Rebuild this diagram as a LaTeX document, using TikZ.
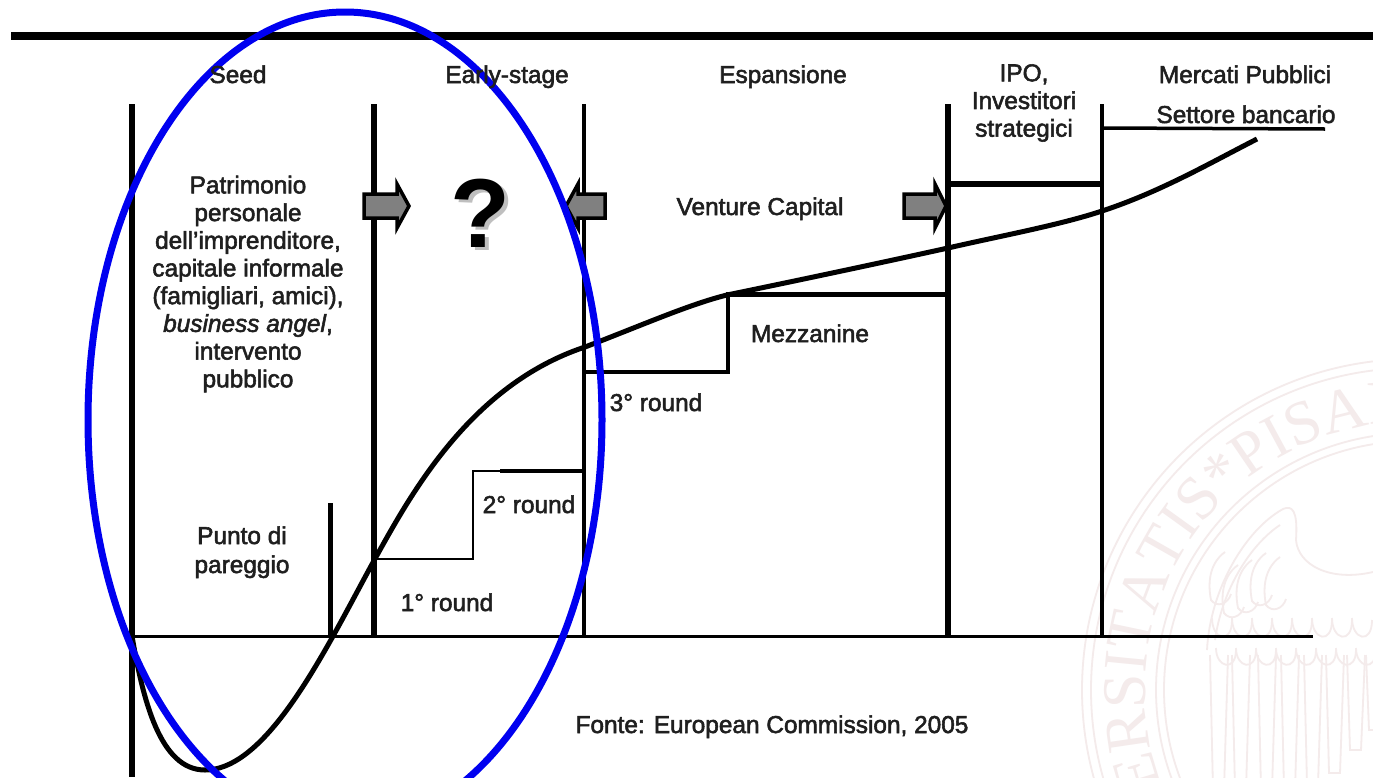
\documentclass[tikz,border=0pt]{standalone}
\usepackage{fontspec}
\usetikzlibrary{decorations.text}
\newfontfamily\lab[FakeBold=2.2]{Liberation Sans}
\newfontfamily\qmark{Liberation Sans Bold}
\newfontfamily\sealfont{Liberation Serif}
\definecolor{seal}{RGB}{244,235,235}
\definecolor{arrowgray}{RGB}{128,128,128}
\definecolor{ringblue}{RGB}{0,0,240}
\tikzset{
  lbl/.style={font=\lab\fontsize{24.4}{27.7}\selectfont, text=black!88, anchor=base, inner sep=0pt, align=center},
  block/.style={lbl, anchor=center},
  axis/.style={draw=black, line width=3.5pt},
  stepline/.style={draw=black, line width=3pt, line join=miter},
  blockarrow/.style={draw=black, fill=arrowgray, line width=3.5pt, miter limit=10},
  sealline/.style={draw=seal, line width=1.8pt}
}
\begin{document}
\begin{tikzpicture}[x=1pt,y=-1pt]
\useasboundingbox (0,0) rectangle (1373,777);
\begin{scope}
\clip (0,0) rectangle (1373,777);
\fill[white] (0,0) rectangle (1373,777);
% watermark seal
\coordinate (sc) at (1413,690);
\foreach \r in {331,322,257,249}{\draw[sealline] (sc) circle[radius=\r];}
\path[postaction={decorate,decoration={text along path,
   text={|\sealfont\fontsize{62}{62}\selectfont\color{seal}|VNIVERSITATIS*PISANAE}, text align=left}}]
   (sc) ++(126:268) arc[start angle=126,end angle=340,radius=268];
\draw[sealline] (1207,650) .. controls (1210,590) and (1245,530) .. (1283,509)
   .. controls (1292,505) and (1298,510) .. (1296,540)
   .. controls (1298,565) and (1330,582) .. (1373,572);
\draw[sealline] (1215,640) .. controls (1222,590) and (1250,545) .. (1280,525);
\foreach \a/\b in {1225/552,1238/565,1252/560,1266/553,1280/557}{
  \draw[sealline] (\a,\b) ..controls (\a-14,\b+10) and (\a-18,\b+28).. (\a-14,\b+48) ..controls (\a-8,\b+56) and (\a+3,\b+52).. (\a+6,\b+42);}
\foreach \a in {1212,1232,1252,1272,1292,1312,1332,1352}{
  \draw[sealline] (\a,618) ..controls (\a,640) and (\a+20,645).. (\a+20,620);
  \draw[sealline] (\a+4,648) ..controls (\a+4,668) and (\a+24,672).. (\a+24,650);}
\foreach \x/\e in {1210/790,1232/790,1258/790,1281/790,1304/785,1326/773,1347/750,1366/730}{
  \draw[sealline] (\x,655) -- (\x+3,\e) -- (\x+14,\e) -- (\x+18,655);}
% rules
\coordinate (barL) at (11,36); \coordinate (barR) at (1373,36);
\draw[line width=8pt] (barL) -- (barR);
\coordinate (a0) at (132,104); \coordinate (a0b) at (132,777);
\coordinate (a1) at (374,104); \coordinate (a1b) at (374,636);
\coordinate (a2) at (584,104); \coordinate (a2b) at (584,636);
\coordinate (a3) at (948,104); \coordinate (a3b) at (948,636);
\coordinate (a4) at (1102,104); \coordinate (a4b) at (1102,636);
\coordinate (be) at (330,503); \coordinate (beb) at (330,636);
\coordinate (baseL) at (132,636); \coordinate (baseR) at (1313,636);
\draw[axis,line width=5.5pt] (a0) -- (a0b);
\draw[axis,line width=5.5pt] (a1) -- (a1b);
\draw[axis,line width=3.2pt] (a2) -- (a2b);
\draw[axis,line width=5.5pt] (a3) -- (a3b);
\draw[axis,line width=4.8pt] (a4) -- (a4b);
\draw[axis,line width=5pt] (be) -- (beb);
\draw[axis,line width=3pt] (baseL) -- (baseR);
% steps
\draw[stepline,line width=2.8pt] (a1 |- 0,559) -- (473,559) -- (473,471) -- (a2 |- 0,471);
\draw[stepline,line width=4pt] (500,471) -- (a2 |- 0,471);
\draw[stepline,line width=4pt] (a2 |- 0,372) -- (728,372) -- (728,294);
\draw[stepline,line width=5pt] (726,294) -- (a3 |- 0,294);
\draw[stepline,line width=5.5pt] (a3 |- 0,184) -- (a4 |- 0,184);
\draw[stepline,line width=3.5pt] (a4 |- 0,128) -- (1325,129);
% curve
\draw[line width=5pt,line join=round]
  (132,636) .. controls (143,700) and (160,770) .. (205,770)
  .. controls (270,770) and (330,640) .. (376,557)
  .. controls (410,496) and (470,385) .. (585,347)
  .. controls (640,326) and (690,304) .. (727,295)
  .. controls (795,281) and (880,263) .. (948,248)
  .. controls (1000,236) and (1060,225) .. (1102,211)
  .. controls (1160,192) and (1210,163) .. (1257,139);
% arrows
\draw[blockarrow] (364,194) -- (397,194) -- (397,184) -- (409,206) -- (397,228) -- (397,218) -- (364,218) -- cycle;
\draw[blockarrow] (605,194) -- (578,194) -- (578,184) -- (566,206) -- (578,228) -- (578,218) -- (605,218) -- cycle;
\draw[blockarrow] (904,194) -- (935,194) -- (935,184) -- (946,206) -- (935,228) -- (935,218) -- (904,218) -- cycle;
% ring
\draw[draw=ringblue,line width=7pt] (345,420) ellipse[x radius=257,y radius=408];
% labels
\node[lbl] (seed) at (238,83) {Seed};
\node[lbl] (early) at (507,83) {Early-stage};
\node[lbl] (esp) at (783,83) {Espansione};
\node[block] (ipo) at (1024,103) {IPO,\\Investitori\\strategici};
\node[lbl] (merc) at (1245,83) {Mercati Pubblici};
\node[lbl] (sett) at (1246,123) {Settore bancario};
\node[block] (pat) at (248,284) {Patrimonio\\personale\\dell’imprenditore,\\capitale informale\\(famigliari, amici),\\{\itshape business angel},\\intervento\\pubblico};
\node[lbl] (vc) at (760,215) {Venture Capital};
\node[lbl] (mez) at (810,342) {Mezzanine};
\node[lbl] (r3) at (656,411) {3° round};
\node[lbl] (r2) at (529,513) {2° round};
\node[lbl] (r1) at (447,611) {1° round};
\node[lbl] (punto) at (242,544) {Punto di};
\node[lbl] (pareggio) at (242,573) {pareggio};
\node[lbl] (fonte) at (772,733) {Fonte: European Commission, 2005};
\node[inner sep=0pt,text=black!25,font=\qmark\fontsize{98}{98}\selectfont] (qs) at (484,216) {?};
\node[inner sep=0pt,text=black,font=\qmark\fontsize{98}{98}\selectfont] (q) at (480,213) {?};
\end{scope}
\end{tikzpicture}
\end{document}
